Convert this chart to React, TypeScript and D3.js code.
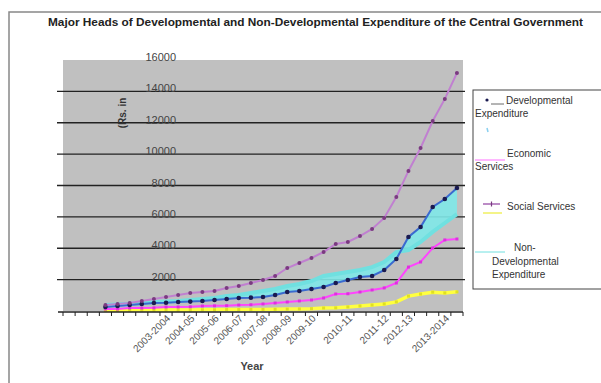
import React from "react";
import * as d3 from "d3";

const categoryLabels: string[] = [
  "", "", "", "", "", "", "", "", "2003-2004", "", "2004-05", "", "2005-06", "",
  "2006-07", "", "2007-08", "", "2008-09", "", "2009-10", "", "", "2010-11", "", "",
  "2011-12", "", "2012-13", "", "", "2013-2014", "",
];

const N = null;
const socialServices: (number | null)[] = [N, N, N,
  380, 450, 510, 640, 765, 890, 1020, 1150, 1210, 1275,
  1470, 1590, 1785, 1975, 2230, 2740, 3060, 3380, 3760, 4270,
  4400, 4780, 5230, 5930, 7270, 8930, 10390, 12110, 13520, 15170];
const developmental: (number | null)[] = [N, N, N,
  255, 320, 380, 450, 510, 530, 575, 600, 640, 700,
  765, 830, 850, 890, 1020, 1210, 1275, 1400, 1530, 1785,
  1975, 2170, 2230, 2610, 3315, 4720, 5355, 6630, 7140, 7840];
const economicServices: (number | null)[] = [N, N, N,
  130, 130, 190, 190, 200, 255, 260, 270, 320, 330,
  340, 380, 400, 450, 510, 575, 640, 700, 830, 1085,
  1100, 1210, 1340, 1470, 1785, 2800, 3125, 4020, 4530, 4590];
const unlabeledSeries: (number | null)[] = [N, N, N,
  50, 50, 60, 60, 60, 70, 70, 70, 80, 80,
  90, 90, 100, 100, 110, 120, 130, 150, 190, 200,
  260, 320, 380, 450, 580, 950, 1080, 1200, 1150, 1220];
const nonDevelopmental: (number | null)[] = [N, N, N,
  380, 420, 460, 510, 570, 600, 640, 700, 765, 830,
  960, 1020, 1150, 1275, 1400, 1590, 1720, 1910, 2230, 2360,
  2490, 2610, 2800, 3120, 3760, 3890, 4400, 5040, 5610, 6180];

const yTicks = [2000, 4000, 6000, 8000, 10000, 12000, 14000, 16000];

const title = "Major Heads of Developmental and Non-Developmental Expenditure of the Central Government";

export default function App() {
  const W = 601, H = 383;
  const left = 63, right = 463, top = 60, bottom = 311;
  const idx = categoryLabels.map((_, i) => i);
  const x = d3.scaleBand<number>().domain(idx).range([left, right]).padding(0);
  const bw = x.bandwidth();
  const cx = (i: number) => (x(i) as number) + bw / 2;
  const y = d3.scaleLinear().domain([0, 16000]).range([bottom, top]);

  const line = d3.line<number | null>()
    .defined((d) => d !== null)
    .x((_, i) => cx(i))
    .y((d) => y(d as number));

  const area = d3.area<number | null>()
    .defined((d, i) => d !== null && developmental[i] !== null)
    .x((_, i) => cx(i))
    .y0((_, i) => y(developmental[i] as number))
    .y1((d) => y(d as number));

  const pts = (arr: (number | null)[]) =>
    arr.map((v, i) => ({ v, i })).filter((p) => p.v !== null) as { v: number; i: number }[];

  const font = "'Liberation Sans', Arial, sans-serif";
  const boundaries = d3.range(categoryLabels.length + 1).map((k) => left + k * bw);

  return (
    <svg width={W} height={H} style={{ position: "absolute", left: 0, top: 0, background: "#fff" }} fontFamily={font}>
      <rect x={0} y={0} width={W} height={H} fill="#fff" />
      {/* outer frame */}
      <path d={`M9,${H} L9,12 L${W},12`} fill="none" stroke="#888" strokeWidth={1.5} />
      <text x={48} y={26} fontSize={10.5} fontWeight="bold" fill="#222" textLength={535} lengthAdjust="spacingAndGlyphs">{title}</text>

      {/* plot area */}
      <rect x={left} y={top} width={right - left} height={bottom - top} fill="#c0c0c0" />
      {yTicks.filter((t) => t < 16000).map((t) => (
        <line key={t} x1={57} x2={right + 2} y1={y(t)} y2={y(t)} stroke="#222" strokeWidth={1.4} />
      ))}
      {yTicks.map((t) => (
        <text key={t} x={176} y={y(t) + 1} fontSize={11} textAnchor="end" fill="#444">{t}</text>
      ))}
      <text transform={`translate(126,113) rotate(-90)`} fontSize={10} fontWeight="bold" textAnchor="middle" fill="#333">(Rs. in</text>

      {/* series */}
      <path d={area(nonDevelopmental) || ""} fill="#80e8e8" opacity={0.9} />
      <path d={line(nonDevelopmental) || ""} fill="none" stroke="#70e0e0" strokeWidth={4} />
      <path d={line(unlabeledSeries) || ""} fill="none" stroke="#ffff40" strokeWidth={3.5} />
      <path d={line(economicServices) || ""} fill="none" stroke="#ff44ff" strokeWidth={2} />
      <path d={line(developmental) || ""} fill="none" stroke="#3a6ad0" strokeWidth={2} />
      <path d={line(socialServices) || ""} fill="none" stroke="#c080d0" strokeWidth={2} />

      {pts(unlabeledSeries).map((p) => (
        <rect key={"u" + p.i} x={cx(p.i) - 1.5} y={y(p.v) - 1.5} width={3} height={3} fill="#e0e020" />
      ))}
      {pts(economicServices).map((p) => (
        <rect key={"e" + p.i} x={cx(p.i) - 1.5} y={y(p.v) - 1.5} width={3} height={3} fill="#e030e0" />
      ))}
      {pts(developmental).map((p) => (
        <circle key={"d" + p.i} cx={cx(p.i)} cy={y(p.v)} r={2.3} fill="#1a1a50" />
      ))}
      {pts(socialServices).map((p) => (
        <circle key={"s" + p.i} cx={cx(p.i)} cy={y(p.v)} r={2} fill="#7a3a80" />
      ))}

      {/* x axis */}
      <line x1={left - 5} x2={right} y1={bottom + 1} y2={bottom + 1} stroke="#222" strokeWidth={1.5} />
      {boundaries.map((b, k) => (
        <line key={k} x1={b} x2={b} y1={bottom + 1} y2={bottom + 5} stroke="#222" strokeWidth={1} />
      ))}
      {categoryLabels.map((c, i) => c ? (
        <text key={i} transform={`translate(${cx(i) + 5},${bottom + 8}) rotate(-45)`} fontSize={10} textAnchor="end" fill="#555">{c}</text>
      ) : null)}
      <text x={252} y={370} fontSize={11} fontWeight="bold" textAnchor="middle" fill="#444">Year</text>

      {/* legend */}
      <rect x={473} y={90} width={140} height={199} fill="#fff" stroke="#444" strokeWidth={1} />
      <circle cx={487} cy={100} r={1.6} fill="#1a1a50" />
      <line x1={491} x2={504} y1={104} y2={104} stroke="#444" strokeWidth={0.8} />
      <text x={506} y={104} fontSize={10} fill="#333">Developmental</text>
      <text x={475} y={117} fontSize={10} fill="#333">Expenditure</text>
      <line x1={487} x2={488} y1={128} y2={132} stroke="#8ad0f0" strokeWidth={1.5} />
      <line x1={475} x2={505} y1={160} y2={160} stroke="#ff70ff" strokeWidth={1} />
      <text x={507} y={157} fontSize={10} fill="#333">Economic</text>
      <text x={475} y={170} fontSize={10} fill="#333">Services</text>
      <line x1={483} x2={500} y1={204} y2={204} stroke="#9040a0" strokeWidth={1.2} />
      <line x1={491.5} x2={491.5} y1={201.5} y2={206.5} stroke="#7a3a80" strokeWidth={1.2} />
      <line x1={483} x2={502} y1={213} y2={213} stroke="#f0f060" strokeWidth={1.5} />
      <text x={507} y={210} fontSize={10} fill="#333">Social Services</text>
      <line x1={475} x2={505} y1={252} y2={252} stroke="#70e0e0" strokeWidth={1} />
      <text x={514} y={251} fontSize={10} fill="#333">Non-</text>
      <text x={492} y={265} fontSize={10} fill="#333">Developmental</text>
      <text x={492} y={278} fontSize={10} fill="#333">Expenditure</text>
    </svg>
  );
}
